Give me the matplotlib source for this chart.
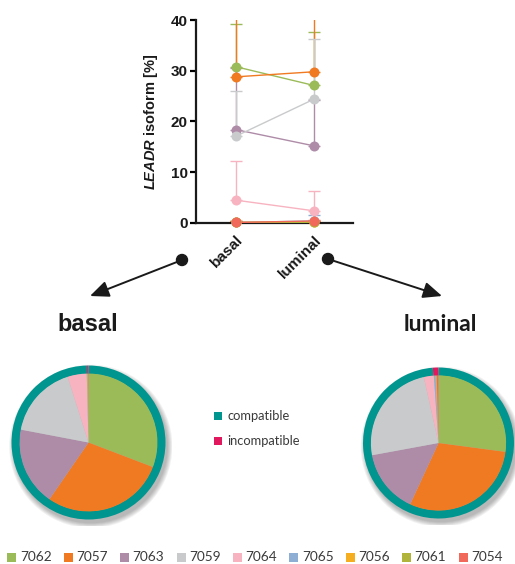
import matplotlib
matplotlib.use("Agg")
import matplotlib.pyplot as plt
from matplotlib.patches import Rectangle, Circle, FancyArrowPatch
import numpy as np

plt.rcParams["mathtext.fontset"] = "custom"
plt.rcParams["mathtext.it"] = "Liberation Sans:italic:bold"
plt.rcParams["mathtext.rm"] = "Liberation Sans:bold"

# ---------------- data ----------------
isoforms = ["7062", "7057", "7063", "7059", "7064", "7065", "7056", "7061", "7054"]
colors = ["#9BBB59", "#F07A22", "#AE8CA8", "#C9CACC", "#F7B3C0",
          "#8EAED4", "#F5AE1F", "#B1B43A", "#F0695A"]
groups = ["basal", "luminal"]

basal_mean = [30.8, 28.8, 18.4, 17.1, 4.5, 0.1, 0.1, 0.1, 0.1]
luminal_mean = [27.1, 29.8, 15.2, 24.4, 2.4, 0.4, 0.2, 0.1, 0.4]
basal_sd = [8.4, 13.0, 12.1, 8.9, 7.7, 0.2, 0.2, 0.2, 0.2]
luminal_sd = [10.6, 12.0, 9.0, 11.8, 3.9, 1.1, 0.2, 0.2, 0.2]

compat_labels = ["compatible", "incompatible"]
compat_colors = ["#00968F", "#E2185F"]
basal_compat = [99.7, 0.3]
luminal_compat = [98.8, 1.2]

yticks = [0, 10, 20, 30, 40]

W, H = 515, 564
fig = plt.figure(figsize=(W / 100, H / 100), dpi=100)


def fr(x0, y0, w, h):
    """pixel box (top-left origin) -> figure fraction rect"""
    return [x0 / W, 1 - (y0 + h) / H, w / W, h / H]


# ---------------- line / error-bar plot ----------------
ax = fig.add_axes(fr(196, 20, 157, 203))
x = np.arange(len(groups))
for i in range(len(isoforms)):
    ys = [basal_mean[i], luminal_mean[i]]
    sds = [basal_sd[i], luminal_sd[i]]
    ax.errorbar(x, ys, yerr=[[0, 0], sds], fmt="none", ecolor=colors[i],
                elinewidth=1.0, capsize=4, capthick=1.0, zorder=2)
    ax.plot(x, ys, "-", color=colors[i], lw=1.0, zorder=3)
for i in range(len(isoforms)):
    ys = [basal_mean[i], luminal_mean[i]]
    ax.scatter(x, ys, s=52, marker="o", color=colors[i], linewidths=0,
               zorder=4 + i, clip_on=False)

ax.set_xlim(-0.51, 1.5)
ax.set_ylim(0, 40)
ax.set_yticks(yticks)
ax.set_xticks(x)
ax.set_xticklabels(groups, rotation=45, ha="right", va="top",
                   rotation_mode="anchor", fontweight="bold", fontsize=11,
                   family="Liberation Sans", color="#1a1a1a")
for lab in ax.get_yticklabels():
    lab.set_fontweight("bold")
    lab.set_fontsize(11)
    lab.set_family("Liberation Sans")
    lab.set_color("#1a1a1a")
ax.tick_params(axis="x", length=0, pad=7)
ax.tick_params(axis="y", length=4, width=1.6, pad=2)
for s in ["top", "right"]:
    ax.spines[s].set_visible(False)
for s in ["left", "bottom"]:
    ax.spines[s].set_linewidth(1.6)
    ax.spines[s].set_color("#1a1a1a")
ax.set_ylabel(r"$\it{LEADR}$ isoform [%]", fontsize=10.5,
              family="Liberation Sans", fontweight="bold", labelpad=8,
              color="#1a1a1a")

# ---------------- overlay for arrows, titles, legends ----------------
ov = fig.add_axes([0, 0, 1, 1], zorder=-1)
ov.set_xlim(0, W)
ov.set_ylim(H, 0)
ov.axis("off")

for (x0, y0), (x1, y1) in [((182, 260), (90, 296)), ((328, 259), (442, 296))]:
    ov.add_patch(Circle((x0, y0), 5.5, color="#1a1a1a", zorder=5))
    ov.add_patch(FancyArrowPatch((x0, y0), (x1, y1),
                                 arrowstyle="-|>,head_length=6,head_width=2.6",
                                 mutation_scale=1.9, color="#1a1a1a", lw=1.4,
                                 shrinkA=0, shrinkB=0, zorder=5))

ov.text(88, 331, "basal", fontsize=17, fontweight="bold",
        family="Liberation Sans", ha="center", va="baseline", color="#1a1a1a")
ov.text(440, 331, "luminal", fontsize=16.5, fontweight="bold",
        family="Lato", ha="center", va="baseline", color="#1a1a1a")

# compatibility legend
for k, (lab, c) in enumerate(zip(compat_labels, compat_colors)):
    yc = 416 + 25 * k
    ov.add_patch(Rectangle((214, yc - 4), 8, 8, color=c, lw=0))
    ov.text(227, yc, lab, fontsize=9.3, family="Lato", va="center",
            ha="left", color="#3a3a3a")

# isoform legend
for k, (lab, c) in enumerate(zip(isoforms, colors)):
    x0 = 7.3 + 56.4 * k
    ov.add_patch(Rectangle((x0, 552.5), 9, 9, color=c, lw=0))
    ov.text(x0 + 12.5, 557, lab, fontsize=9.8, family="Lato", va="center",
            ha="left", color="#3a3a3a")


# ---------------- pies ----------------
def draw_pie(cx, cy, r, means, compat):
    pax = fig.add_axes(fr(cx - r - 6, cy - r - 6, 2 * r + 12, 2 * r + 12))
    lim = (r + 6) / r
    pax.set_xlim(-lim, lim)
    pax.set_ylim(-lim, lim)
    pax.set_aspect("equal")
    pax.axis("off")
    # soft drop shadow
    for k in range(6):
        pax.add_patch(Circle((0.03, -0.05), 1.0 + 0.012 * k, color="#000000",
                             alpha=0.05, lw=0, zorder=0))
    pax.pie(compat, colors=compat_colors, radius=1.0, startangle=90,
            counterclock=False, wedgeprops=dict(width=0.11, lw=0))
    pax.pie(means, colors=colors, radius=0.895, startangle=90,
            counterclock=False, wedgeprops=dict(lw=0))
    pax.set_xlim(-lim, lim)
    pax.set_ylim(-lim, lim)


draw_pie(88.5, 442.5, 77, basal_mean, basal_compat)
draw_pie(438.5, 443, 75.5, luminal_mean, luminal_compat)

fig.savefig("out.png", dpi=100)
